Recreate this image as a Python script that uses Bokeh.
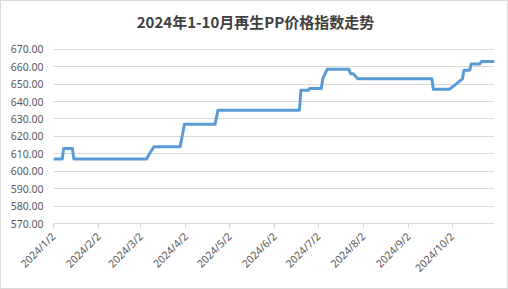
import pandas as pd
from bokeh.plotting import figure
from bokeh.models import Range1d, FixedTicker, CustomJSTickFormatter, NumeralTickFormatter, ColumnDataSource, Label
from bokeh.embed import file_html
from bokeh.resources import INLINE

# ---- data ----
dates = ["2024-01-02", "2024-01-08", "2024-01-09", "2024-01-15", "2024-01-16",
         "2024-03-06", "2024-03-08", "2024-03-11", "2024-03-29", "2024-04-01",
         "2024-04-22", "2024-04-24", "2024-06-19", "2024-06-20", "2024-06-25",
         "2024-06-26", "2024-07-04", "2024-07-05", "2024-07-08", "2024-07-23",
         "2024-07-24", "2024-07-26", "2024-07-29", "2024-09-18", "2024-09-19",
         "2024-09-30", "2024-10-09", "2024-10-10", "2024-10-14", "2024-10-15",
         "2024-10-21", "2024-10-22", "2024-10-31"]
values = [607, 607, 613, 613, 607,
          607, 610, 614, 614, 627,
          627, 635, 635, 646.5, 646.5,
          647.5, 647.5, 653, 658.5, 658.5,
          656, 656, 653, 653, 647,
          647, 653, 658, 658, 661.5,
          661.5, 663, 663]
tick_dates = ["2024-01-02", "2024-02-02", "2024-03-02", "2024-04-02", "2024-05-02",
              "2024-06-02", "2024-07-02", "2024-08-02", "2024-09-02", "2024-10-02"]
tick_labels = ["2024/1/2", "2024/2/2", "2024/3/2", "2024/4/2", "2024/5/2",
               "2024/6/2", "2024/7/2", "2024/8/2", "2024/9/2", "2024/10/2"]
y_ticks = [570, 580, 590, 600, 610, 620, 630, 640, 650, 660, 670]
title_text = "2024年1-10月再生PP价格指数走势"

x = pd.to_datetime(dates)
src = ColumnDataSource(dict(x=x, y=values))
tick_ms = [pd.Timestamp(d).value / 1e6 for d in tick_dates]

# the frame reaches the top of the canvas so that the title (drawn inside it) is not clipped;
# the range's upper end leaves ~48px of headroom above the 670 gridline
p = figure(width=508, height=289, output_backend="svg", toolbar_location=None,
           x_axis_type="datetime",
           x_range=Range1d(pd.Timestamp("2024-01-02"), pd.Timestamp("2024-10-31")),
           y_range=Range1d(570, 697.4),
           min_border_left=52, min_border_right=15, min_border_top=0, min_border_bottom=67)

# screen units here are measured from the frame's bottom-left corner
title = Label(x=202, y=202, x_units="screen", y_units="screen", text=title_text,
              text_align="center", text_baseline="middle",
              text_font="Noto Sans CJK SC", text_font_size="15px",
              text_font_style="bold", text_color="#404040")
p.add_layout(title)

p.line("x", "y", source=src, line_color="#5b9bd5", line_width=3, line_join="round")

p.outline_line_color = None
p.background_fill_color = "white"
p.border_fill_color = "white"
p.xgrid.grid_line_color = None
p.ygrid.grid_line_color = "#d9d9d9"
p.ygrid.grid_line_width = 1

p.yaxis.ticker = FixedTicker(ticks=y_ticks)
p.yaxis.formatter = NumeralTickFormatter(format="0.00")
p.yaxis.axis_line_color = None
p.yaxis.major_tick_line_color = None
p.yaxis.minor_tick_line_color = None
p.yaxis.major_label_text_font = "Noto Sans"
p.yaxis.major_label_text_font_size = "10.5px"
p.yaxis.major_label_text_color = "#595959"
p.yaxis.major_label_standoff = 4

p.xaxis.ticker = FixedTicker(ticks=tick_ms)
p.xaxis.formatter = CustomJSTickFormatter(
    args=dict(tk=tick_ms, lb=tick_labels),
    code="""
    for (let i = 0; i < tk.length; i++) {
        if (Math.abs(tk[i] - tick) < 1000) return lb[i];
    }
    return "";
    """)
p.xaxis.axis_line_color = "#d9d9d9"
p.xaxis.major_tick_line_color = "#d9d9d9"
p.xaxis.major_tick_out = 5
p.xaxis.major_tick_in = 0
p.xaxis.minor_tick_line_color = None
p.xaxis.major_label_orientation = 0.785398
p.xaxis.major_label_text_font = "Noto Sans"
p.xaxis.major_label_text_font_size = "10.5px"
p.xaxis.major_label_text_color = "#595959"
p.xaxis.major_label_standoff = 6

p.styles = {"border": "1px solid #d9d9d9", "box-sizing": "border-box"}

open("out.html", "w").write(file_html(p, INLINE))
